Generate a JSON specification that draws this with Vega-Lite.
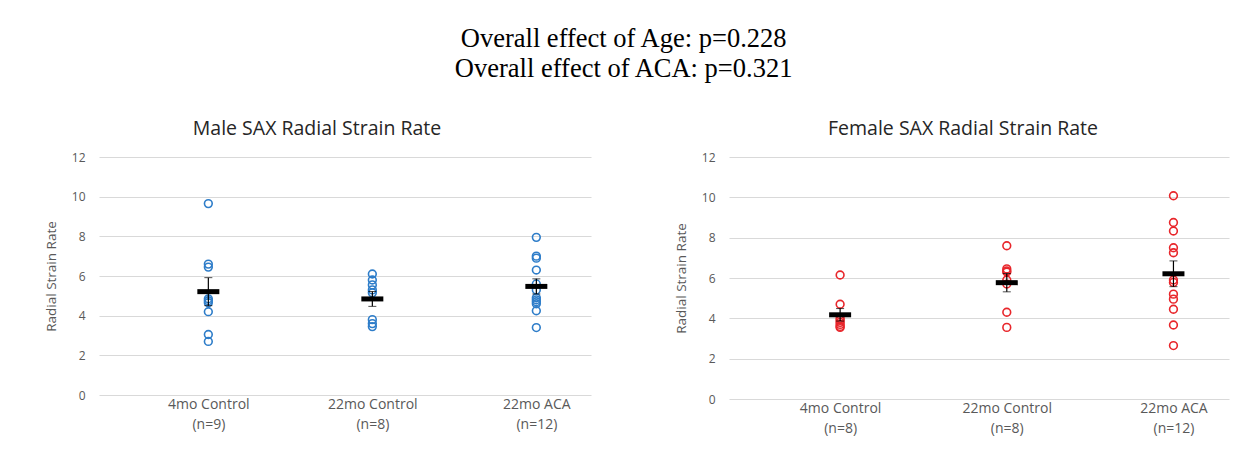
{
  "$schema": "https://vega.github.io/schema/vega-lite/v6.json",
  "background": "white",
  "padding": {"left": 44, "top": 26, "right": 20, "bottom": 5},
  "spacing": 83,
  "title": {
    "text": ["Overall effect of Age: p=0.228", "Overall effect of ACA: p=0.321"],
    "font": "Liberation Serif",
    "fontSize": 26.5,
    "fontWeight": "normal",
    "lineHeight": 30,
    "color": "black",
    "anchor": "middle",
    "frame": "bounds",
    "dx": -13,
    "offset": 36
  },
  "datasets": {
    "male": [
      {"group": "4mo Control", "value": 9.65},
      {"group": "4mo Control", "value": 6.6},
      {"group": "4mo Control", "value": 6.45},
      {"group": "4mo Control", "value": 4.85},
      {"group": "4mo Control", "value": 4.75},
      {"group": "4mo Control", "value": 4.65},
      {"group": "4mo Control", "value": 4.2},
      {"group": "4mo Control", "value": 3.05},
      {"group": "4mo Control", "value": 2.7},
      {"group": "22mo Control", "value": 6.1},
      {"group": "22mo Control", "value": 5.8},
      {"group": "22mo Control", "value": 5.55},
      {"group": "22mo Control", "value": 5.3},
      {"group": "22mo Control", "value": 5.15},
      {"group": "22mo Control", "value": 3.8},
      {"group": "22mo Control", "value": 3.6},
      {"group": "22mo Control", "value": 3.45},
      {"group": "22mo ACA", "value": 7.95},
      {"group": "22mo ACA", "value": 7.0},
      {"group": "22mo ACA", "value": 6.9},
      {"group": "22mo ACA", "value": 6.3},
      {"group": "22mo ACA", "value": 5.6},
      {"group": "22mo ACA", "value": 5.3},
      {"group": "22mo ACA", "value": 4.9},
      {"group": "22mo ACA", "value": 4.8},
      {"group": "22mo ACA", "value": 4.7},
      {"group": "22mo ACA", "value": 4.6},
      {"group": "22mo ACA", "value": 4.25},
      {"group": "22mo ACA", "value": 3.4}
    ],
    "female": [
      {"group": "4mo Control", "value": 6.15},
      {"group": "4mo Control", "value": 4.7},
      {"group": "4mo Control", "value": 4.0},
      {"group": "4mo Control", "value": 3.9},
      {"group": "4mo Control", "value": 3.8},
      {"group": "4mo Control", "value": 3.7},
      {"group": "4mo Control", "value": 3.6},
      {"group": "4mo Control", "value": 3.55},
      {"group": "22mo Control", "value": 7.6},
      {"group": "22mo Control", "value": 6.45},
      {"group": "22mo Control", "value": 6.35},
      {"group": "22mo Control", "value": 6.3},
      {"group": "22mo Control", "value": 5.9},
      {"group": "22mo Control", "value": 5.7},
      {"group": "22mo Control", "value": 4.3},
      {"group": "22mo Control", "value": 3.55},
      {"group": "22mo ACA", "value": 10.08},
      {"group": "22mo ACA", "value": 8.75},
      {"group": "22mo ACA", "value": 8.33},
      {"group": "22mo ACA", "value": 7.5},
      {"group": "22mo ACA", "value": 7.25},
      {"group": "22mo ACA", "value": 5.9},
      {"group": "22mo ACA", "value": 5.78},
      {"group": "22mo ACA", "value": 5.2},
      {"group": "22mo ACA", "value": 4.95},
      {"group": "22mo ACA", "value": 4.45},
      {"group": "22mo ACA", "value": 3.67},
      {"group": "22mo ACA", "value": 2.65}
    ]
  },
  "config": {
    "view": {"stroke": null},
    "font": "Open Sans",
    "title": {"font": "Open Sans", "fontSize": 19.5, "fontWeight": "normal", "color": "#262626", "anchor": "middle", "offset": 12},
    "axisY": {
      "domain": false, "ticks": false, "grid": true, "gridColor": "#D9D9D9", "gridWidth": 1,
      "labelColor": "#595959", "labelFontSize": 12, "labelPadding": 14, "labelOverlap": false,
      "titleColor": "#595959", "titleFontSize": 13.5, "titleFontWeight": "normal", "titlePadding": 13
    },
    "axisX": {
      "domain": false, "ticks": false, "grid": false,
      "labelColor": "#595959", "labelFontSize": 14, "labelLineHeight": 20, "labelPadding": 2, "labelAngle": 0
    }
  },
  "hconcat": [
    {
      "title": {"text": "Male SAX Radial Strain Rate", "frame": "group", "dx": -28},
      "width": 492,
      "height": 238,
      "data": {"name": "male"},
      "encoding": {
        "x": {
          "field": "group", "type": "nominal", "sort": ["4mo Control", "22mo Control", "22mo ACA"],
          "scale": {"type": "point", "paddingOuter": 0.75, "align": 0.6667},
          "axis": {"title": null, "labelExpr": "datum.label == '4mo Control' ? ['4mo Control', '(n=9)'] : datum.label == '22mo Control' ? ['22mo Control', '(n=8)'] : ['22mo ACA', '(n=12)']"}
        },
        "y": {
          "field": "value", "type": "quantitative",
          "scale": {"domain": [0, 12], "nice": false},
          "axis": {"title": "Radial Strain Rate", "values": [0, 2, 4, 6, 8, 10, 12]}
        }
      },
      "layer": [
        {"mark": {"type": "point", "shape": "circle", "filled": false, "size": 60, "strokeWidth": 1.6, "color": "#2E7DC9", "opacity": 1}},
        {"mark": {"type": "errorbar", "extent": "stderr", "color": "black", "ticks": {"size": 8, "color": "black"}, "rule": {"strokeWidth": 1.2, "color": "black"}}},
        {"mark": {"type": "tick", "color": "black", "thickness": 5, "size": 22, "opacity": 1}, "encoding": {"y": {"field": "value", "type": "quantitative", "aggregate": "mean"}}}
      ]
    },
    {
      "title": {"text": "Female SAX Radial Strain Rate", "frame": "group", "dx": -16},
      "width": 500,
      "height": 242,
      "data": {"name": "female"},
      "encoding": {
        "x": {
          "field": "group", "type": "nominal", "sort": ["4mo Control", "22mo Control", "22mo ACA"],
          "scale": {"type": "point", "paddingOuter": 0.75, "align": 0.6667},
          "axis": {"title": null, "labelExpr": "datum.label == '4mo Control' ? ['4mo Control', '(n=8)'] : datum.label == '22mo Control' ? ['22mo Control', '(n=8)'] : ['22mo ACA', '(n=12)']"}
        },
        "y": {
          "field": "value", "type": "quantitative",
          "scale": {"domain": [0, 12], "nice": false},
          "axis": {"title": "Radial Strain Rate", "values": [0, 2, 4, 6, 8, 10, 12]}
        }
      },
      "layer": [
        {"mark": {"type": "point", "shape": "circle", "filled": false, "size": 60, "strokeWidth": 1.6, "color": "#E8262B", "opacity": 1}},
        {"mark": {"type": "errorbar", "extent": "stderr", "color": "black", "ticks": {"size": 8, "color": "black"}, "rule": {"strokeWidth": 1.2, "color": "black"}}},
        {"mark": {"type": "tick", "color": "black", "thickness": 5, "size": 22, "opacity": 1}, "encoding": {"y": {"field": "value", "type": "quantitative", "aggregate": "mean"}}}
      ]
    }
  ]
}
